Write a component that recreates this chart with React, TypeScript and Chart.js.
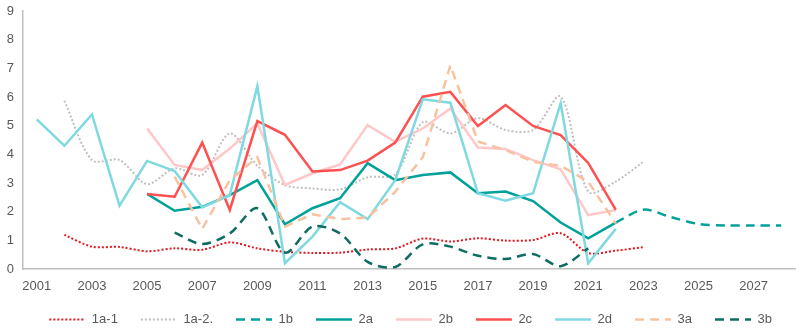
import React, { useEffect, useRef } from "react";
import { Chart, registerables } from "chart.js";

Chart.register(...registerables);

const years = [
  "2001", "2002", "2003", "2004", "2005", "2006", "2007", "2008", "2009", "2010",
  "2011", "2012", "2013", "2014", "2015", "2016", "2017", "2018", "2019", "2020",
  "2021", "2022", "2023", "2024", "2025", "2026", "2027", "2028",
];
const xTickLabels = ["2001", "2003", "2005", "2007", "2009", "2011", "2013", "2015", "2017", "2019", "2021", "2023", "2025", "2027"];
const yTicks = [0, 1, 2, 3, 4, 5, 6, 7, 8, 9];

const N = null;
// 2001 .. 2028
const s1a1 = [N, 1.19, 0.78, 0.77, 0.62, 0.72, 0.67, 0.93, 0.72, 0.6, 0.56, 0.57, 0.68, 0.72, 1.06, 0.96, 1.07, 0.99, 1.01, 1.25, 0.56, 0.64, 0.76, N, N, N, N, N];
const s1a2 = [N, 5.87, 3.8, 3.8, 2.96, 3.51, 3.28, 4.73, 3.6, 2.93, 2.81, 2.78, 3.2, 3.3, 5.12, 4.73, 5.26, 4.85, 4.85, 6.01, 2.7, 3.05, 3.74, N, N, N, N, N];
const s1b = [N, N, N, N, N, N, N, N, N, N, N, N, N, N, N, N, N, N, N, N, N, 1.62, 2.07, 1.81, 1.57, 1.52, 1.52, 1.52];
const s2a = [N, N, N, N, 2.62, 2.03, 2.17, 2.58, 3.1, 1.56, 2.12, 2.47, 3.69, 3.1, 3.28, 3.37, 2.64, 2.7, 2.37, 1.62, 1.07, 1.62, N, N, N, N, N, N];
const s2b = [N, N, N, N, 4.9, 3.63, 3.45, 4.2, 5.08, 2.93, 3.34, 3.65, 5.02, 4.44, 4.9, 5.6, 4.24, 4.19, 3.8, 3.48, 1.88, 2.06, N, N, N, N, N, N];
const s2c = [N, N, N, N, 2.62, 2.52, 4.41, 2.06, 5.16, 4.68, 3.4, 3.45, 3.78, 4.41, 6.01, 6.18, 4.99, 5.72, 4.99, 4.67, 3.7, 2.06, N, N, N, N, N, N];
const s2d = [5.22, 4.3, 5.39, 2.21, 3.77, 3.42, 2.15, 2.58, 6.38, 0.2, 1.13, 2.33, 1.74, 3.1, 5.92, 5.8, 2.64, 2.38, 2.64, 5.78, 0.2, 1.4, N, N, N, N, N, N];
const s3a = [N, N, N, N, N, 3.22, 1.4, 3.1, 3.9, 1.48, 1.91, 1.74, 1.79, 2.69, 3.9, 7.1, 4.45, 4.15, 3.74, 3.6, 3.05, 1.59, N, N, N, N, N, N];
const s3b = [N, N, N, N, N, 1.27, 0.87, 1.24, 2.12, 0.57, 1.48, 1.24, 0.25, 0.07, 0.86, 0.78, 0.46, 0.35, 0.52, 0.1, 0.72, N, N, N, N, N, N, N];

const seriesNames = ["1a-1", "1a-2.", "1b", "2a", "2b", "2c", "2d", "3a", "3b"];
const seriesData = [s1a1, s1a2, s1b, s2a, s2b, s2c, s2d, s3a, s3b];
const seriesColors = ["#e3171d", "#bfbfbf", "#00a19a", "#00a19a", "#ffc7c7", "#ff5050", "#7fd9e1", "#f8c2a0", "#0e6d63"];
const seriesDash = [[2, 2], [2, 2], [9, 6], [], [], [], [], [9, 6], [9, 6]];
const seriesWidth = [2, 2, 2.5, 2.5, 2.5, 2.5, 2.5, 2.5, 2.5];
const seriesTension = [0.3, 0.3, 0.3, 0, 0, 0, 0, 0, 0.3];

const FONT = "'Liberation Sans', Arial, sans-serif";
const TEXT = "#595959";

export default function App() {
  const ref = useRef<HTMLCanvasElement | null>(null);
  useEffect(() => {
    if (!ref.current) return;
    const chart = new Chart(ref.current, {
      type: "line",
      data: {
        labels: years,
        datasets: seriesNames.map((name, i) => ({
          label: name,
          data: seriesData[i],
          borderColor: seriesColors[i],
          backgroundColor: seriesColors[i],
          borderDash: seriesDash[i],
          borderWidth: seriesWidth[i],
          tension: seriesTension[i],
          pointRadius: 0,
          pointHoverRadius: 0,
          fill: false,
          spanGaps: false,
          order: 9 - i,
        })),
      },
      options: {
        animation: false,
        responsive: true,
        maintainAspectRatio: false,
        layout: { padding: { left: 6, right: 5, top: 11, bottom: 0 } },
        plugins: {
          tooltip: { enabled: false },
          legend: {
            position: "bottom",
            align: "end",
            maxHeight: 40,
            labels: {
              usePointStyle: true,
              pointStyle: "line",
              pointStyleWidth: 36,
              boxWidth: 36,
              boxHeight: 3,
              padding: 23,
              color: TEXT,
              font: { family: FONT, size: 13 },
              sort: (a: any, b: any) => a.datasetIndex - b.datasetIndex,
              generateLabels: (c: any) => {
                const items = Chart.defaults.plugins.legend.labels.generateLabels(c);
                return items.map((it: any) => {
                  const ds: any = c.data.datasets[it.datasetIndex];
                  return {
                    ...it,
                    lineDash: ds.borderDash,
                    lineWidth: ds.borderWidth,
                    strokeStyle: ds.borderColor,
                    fillStyle: ds.borderColor,
                    pointStyle: "line",
                    fontColor: TEXT,
                  };
                });
              },
            },
          },
        },
        scales: {
          x: {
            type: "category",
            offset: true,
            grid: { display: false, drawTicks: false },
            border: { display: true, color: "#bfbfbf", width: 1.5 },
            afterFit: (scale: any) => {
              scale.paddingLeft = 0;
              scale.paddingRight = 0;
              scale.height = 21;
            },
            ticks: {
              autoSkip: false,
              maxRotation: 0,
              minRotation: 0,
              padding: 14,
              color: TEXT,
              font: { family: FONT, size: 13, lineHeight: 0.5 },
              callback: function (this: any, value: any, index: number) {
                const lab = years[index];
                return xTickLabels.includes(lab) ? lab : "";
              },
            },
          },
          y: {
            min: 0,
            max: 9,
            grid: { display: false, drawTicks: false },
            border: { display: true, color: "#bfbfbf", width: 1.5 },
            afterBuildTicks: (axis: any) => {
              axis.ticks = yTicks.map((v) => ({ value: v }));
            },
            afterFit: (scale: any) => {
              scale.paddingTop = 0;
              scale.paddingBottom = 0;
              scale.width = 17;
            },
            ticks: {
              padding: 9,
              color: TEXT,
              font: { family: FONT, size: 13 },
            },
          },
        },
      },
    });
    return () => chart.destroy();
  }, []);
  return (
    <div style={{ position: "absolute", left: 0, top: 0, width: 800, height: 330, background: "#fff" }}>
      <canvas ref={ref} />
    </div>
  );
}
